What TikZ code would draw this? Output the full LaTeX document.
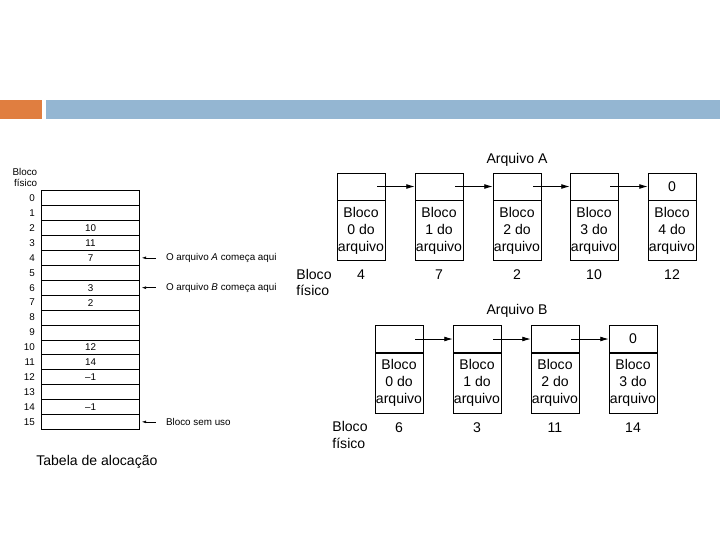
\documentclass[tikz,border=0pt]{standalone}
\usepackage{fontspec}
\setmainfont{Liberation Sans}
\usepackage{xcolor}
\usetikzlibrary{arrows.meta,positioning,calc}

\definecolor{barorange}{RGB}{224,126,64}
\definecolor{barblue}{RGB}{148,182,210}

\tikzset{
  tabrow/.style={draw, minimum width=2.45cm, minimum height=0.3725cm, inner sep=0pt, font=\fontsize{7}{8}\selectfont},
  tabtext/.style={font=\fontsize{7}{8}\selectfont, inner sep=0pt},
  tabarrow/.style={-{Latex[length=3pt,width=2pt]}, thin},
  topcell/.style={draw, minimum width=1.2cm, minimum height=0.675cm, inner sep=0pt, font=\fontsize{10}{11.5}\selectfont},
  botcell/.style={draw, minimum width=1.2cm, minimum height=1.5cm, inner sep=0pt, align=center, font=\fontsize{10}{12}\selectfont},
  chaintext/.style={font=\fontsize{10}{11.5}\selectfont, inner sep=0pt},
  chainarrow/.style={-{Latex[length=6pt,width=3.5pt]}, semithick}
}

\begin{document}
\begin{tikzpicture}[x=0.025cm, y=-0.025cm]
\useasboundingbox (0,0) rectangle (720,540);
% header bars
\fill[barorange] (0,100) rectangle (42,119);
\fill[barblue] (46,100) rectangle (720,119);

% allocation table: row / next block
\node[tabtext, align=right, anchor=east] (thead) at (37.5,177.5) {Bloco\\físico};
\foreach \r/\v in {0/,1/,2/10,3/11,4/7,5/,6/3,7/2,8/,9/,10/12,11/14,12/\textendash1,13/,14/\textendash1,15/} {
    \node[tabrow] (r\r) at (90.5,198.2+\r*14.91) {\v};
    \node[tabtext, anchor=east] (n\r) at ([xshift=-0.15cm]r\r.west) {\r};
}
\node[tabtext, anchor=west] (la) at ([xshift=0.65cm]r4.east) {O arquivo \textit{A} começa aqui};
\node[tabtext, anchor=west] (lb) at ([xshift=0.65cm]r6.east) {O arquivo \textit{B} começa aqui};
\node[tabtext, anchor=west] (lf) at ([xshift=0.65cm]r15.east) {Bloco sem uso};
\foreach \l/\r in {la/r4, lb/r6, lf/r15} {
    \draw[tabarrow] ([xshift=-0.25cm]\l.west) -- ([xshift=0.05cm]\r.east);
}
\node[anchor=west, font=\fontsize{10}{12}\selectfont, inner sep=0pt] (tcap) at (36,462) {Tabela de alocação};

% file A chain
\node[chaintext] (titA) at (517,160) {Arquivo A};
\foreach \i/\x/\b in {0/337/4, 1/415/7, 2/493/2, 3/570/10, 4/648/12} {
    \node[topcell] (at\i) at (\x+24,186.5) {};
    \node[botcell, anchor=north] (ab\i) at (at\i.south) {Bloco\\\i{} do\\arquivo};
    \node[chaintext] (an\i) at (\x+24,275) {\b};
}
\node[chaintext] at (at4) {0};
\foreach \i/\j in {0/1, 1/2, 2/3, 3/4} {
    \coordinate (as\i) at ([xshift=-0.2cm]at\i.east);
    \draw[chainarrow] (as\i) -- (at\j.west);
}
\node[chaintext, align=left] (phA) at (314,282.5) {Bloco\\físico};

% file B chain
\node[chaintext] (titB) at (517,311) {Arquivo B};
\foreach \i/\x/\b in {0/375/6, 1/453/3, 2/531/11, 3/609/14} {
    \node[topcell] (bt\i) at (\x+24,339) {};
    \node[botcell, anchor=north] (bb\i) at (bt\i.south) {Bloco\\\i{} do\\arquivo};
    \node[chaintext] (bn\i) at (\x+24,428) {\b};
}
\node[chaintext] at (bt3) {0};
\foreach \i/\j in {0/1, 1/2, 2/3} {
    \coordinate (bs\i) at ([xshift=-0.2cm]bt\i.east);
    \draw[chainarrow] (bs\i) -- (bt\j.west);
}
\node[chaintext, align=left] (phB) at (350,435) {Bloco\\físico};
\end{tikzpicture}
\end{document}
